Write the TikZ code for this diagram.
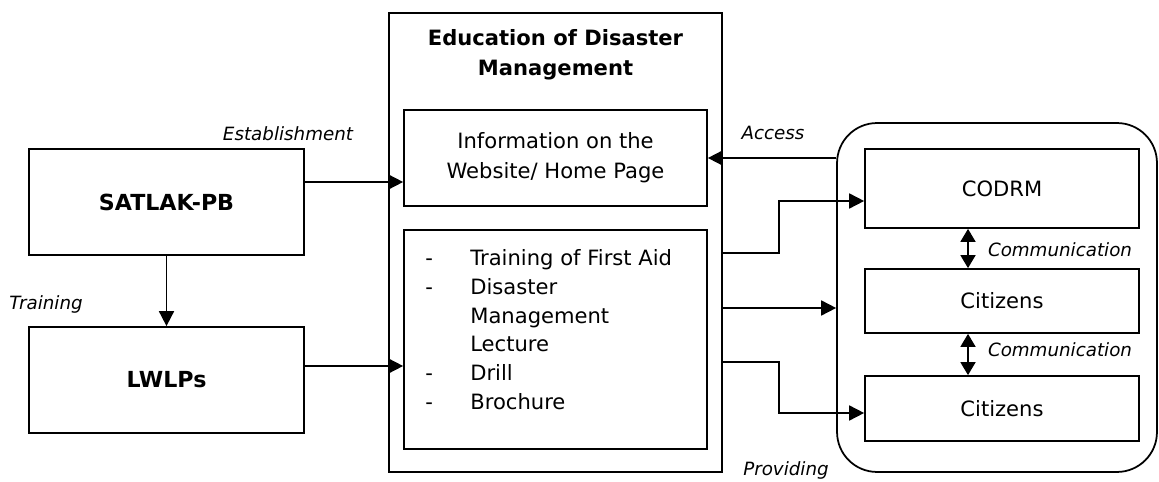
\documentclass[tikz,border=0pt]{standalone}
\usepackage{fontspec}
\setmainfont{DejaVu Sans}
\usepackage{xcolor}
\usetikzlibrary{arrows.meta,positioning,calc}
\tikzset{
  ebox/.style={draw, line width=1pt, align=center, inner sep=3pt, font=\fontsize{12}{17}\selectfont},
  eboxbold/.style={ebox, font=\fontsize{12.6}{17}\selectfont\bfseries},
  egroup/.style={draw, line width=1pt, rounded corners=0.8cm},
  elabel/.style={font=\fontsize{10.4}{12}\selectfont\itshape, inner sep=1pt},
  earrow/.style={-{Triangle[length=3mm,width=3mm]}, line width=1pt},
  etwoway/.style={{Triangle[length=2.6mm,width=3mm]}-{Triangle[length=2.6mm,width=3mm]}, line width=1pt}
}

\begin{document}
\begin{tikzpicture}[x=0.02cm,y=-0.02cm]
\useasboundingbox (0,0) rectangle (1159,482);

% left side
\node[eboxbold, minimum width=5.5cm, minimum height=2.12cm] (satlak) at (166.5,202) {SATLAK-PB};
\node[eboxbold, minimum width=5.5cm, minimum height=2.12cm] (lwlps) at (166.5,380) {LWLPs};

% education block
\node[ebox, minimum width=6.66cm, minimum height=9.18cm] (edu) at (555.5,242.5) {};
\node[font=\fontsize{12}{17}\selectfont\bfseries, align=center] (edutitle) at (555.5,55) {Education of Disaster\\Management};
\node[ebox, minimum width=6.06cm, minimum height=1.92cm] (info) at (555.5,158) {Information on the\\Website/ Home Page};
\node[ebox, minimum width=6.06cm, minimum height=4.38cm] (act) at (555.5,339.5) {};
\node[anchor=north west, inner sep=0pt, font=\fontsize{12}{16.4}\selectfont] (actlist) at (425,245) {%
  \begin{tabular}{@{}p{0.9cm}@{}l@{}}
  - & Training of First Aid\\
  - & Disaster\\
    & Management\\
    & Lecture\\
  - & Drill\\
  - & Brochure
  \end{tabular}};

% right side
\node[egroup, minimum width=6.4cm, minimum height=6.98cm] (group) at (997,297.5) {};
\node[ebox, minimum width=5.48cm, minimum height=1.58cm] (codrm) at (1002,188.5) {CODRM};
\node[ebox, minimum width=5.48cm, minimum height=1.28cm] (cit1) at (1002,301) {Citizens};
\node[ebox, minimum width=5.48cm, minimum height=1.3cm] (cit2) at (1002,408.5) {Citizens};

% labels
\node[elabel] (lest) at (288,134) {Establishment};
\node[elabel] (ltrain) at (46,304) {Training};
\node[elabel] (lacc) at (773,133) {Access};
\node[elabel] (lcom1) at (1060,250) {Communication};
\node[elabel] (lcom2) at (1060,350) {Communication};
\node[elabel] (lprov) at (786,470) {Providing};

% connectors
\coordinate (est) at ([yshift=4mm]satlak.east);
\draw[earrow] (est) -- (est -| info.west);
\coordinate (trn) at ([yshift=2.8mm]lwlps.east);
\draw[earrow] (trn) -- (trn -| act.west);
\draw[earrow] (satlak.south) -- (lwlps.north);
\draw[earrow] (group.west |- info.east) -- (info.east);
\draw[earrow] (edu.east |- 0,253) -| (779,201) -- (codrm.west |- 0,201);
\draw[earrow] (edu.east |- 0,308) -- (group.west |- 0,308);
\draw[earrow] (edu.east |- 0,362) -| (779,413) -- (cit2.west |- 0,413);
\draw[etwoway] (codrm.south -| 968,0) -- (cit1.north -| 968,0);
\draw[etwoway] (cit1.south -| 968,0) -- (cit2.north -| 968,0);
\end{tikzpicture}
\end{document}
